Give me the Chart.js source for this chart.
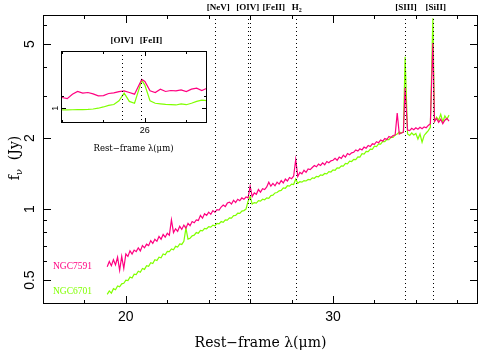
<!DOCTYPE html>
<html>
<head>
<meta charset="utf-8">
<script src="https://cdn.jsdelivr.net/npm/chart.js@4"></script>
<style>
html, body { margin: 0; padding: 0; background: #fff; }
#wrap { position: relative; width: 479px; height: 354px; }
#wrap canvas { position: absolute; left: 0; top: 0; }
</style>
</head>
<body>
<div id="wrap">
<canvas id="grafico" width="479" height="354"></canvas>
<canvas id="inset" width="479" height="354"></canvas>
</div>
<script>
//! datos del espectro (rest-frame lambda en micras, f_nu en Jy)
var lambda = [
    19.1, 19.2, 19.3, 19.4, 19.5, 19.6, 19.7, 19.8, 19.9,
    20.0, 20.1, 20.2, 20.3, 20.4, 20.5, 20.6, 20.7, 20.8, 20.9,
    21.0, 21.1, 21.2, 21.3, 21.4, 21.5, 21.6, 21.7, 21.8, 21.9,
    22.0, 22.1, 22.2, 22.3, 22.4, 22.5, 22.6, 22.7, 22.8, 22.9,
    23.0, 23.1, 23.2, 23.3, 23.4, 23.5, 23.6, 23.7, 23.8, 23.9,
    24.0, 24.1, 24.2, 24.3, 24.4, 24.5, 24.6, 24.7, 24.8, 24.9,
    25.0, 25.1, 25.2, 25.3, 25.4, 25.5, 25.6, 25.7, 25.8, 25.9,
    26.0, 26.1, 26.2, 26.3, 26.4, 26.5, 26.6, 26.7, 26.8, 26.9,
    27.0, 27.1, 27.2, 27.3, 27.4, 27.5, 27.6, 27.7, 27.8, 27.9,
    28.0, 28.1, 28.2, 28.3, 28.4, 28.5, 28.6, 28.7, 28.8, 28.9,
    29.0, 29.1, 29.2, 29.3, 29.4, 29.5, 29.6, 29.7, 29.8, 29.9,
    30.0, 30.1, 30.2, 30.3, 30.4, 30.5, 30.6, 30.7, 30.8, 30.9,
    31.0, 31.1, 31.2, 31.3, 31.4, 31.5, 31.6, 31.7, 31.8, 31.9,
    32.0, 32.1, 32.2, 32.3, 32.4, 32.5, 32.6, 32.7, 32.8, 32.9,
    33.0, 33.1, 33.2, 33.3, 33.4,
    33.48, 33.6, 33.7, 33.8, 33.9, 34.0, 34.1, 34.2, 34.3, 34.4, 34.5,
    34.6, 34.7, 34.82, 34.9, 35.0, 35.1, 35.2, 35.3, 35.4, 35.5, 35.6
];

var ngc7591 = [
    0.57, 0.60, 0.575, 0.61, 0.58, 0.625, 0.55, 0.63, 0.56,
    0.645, 0.63, 0.665, 0.645, 0.67, 0.66, 0.685, 0.665, 0.70, 0.685,
    0.71, 0.70, 0.735, 0.715, 0.745, 0.73, 0.765, 0.745, 0.78, 0.76,
    0.79, 0.775, 0.90, 0.795, 0.825, 0.805, 0.845, 0.82, 0.855, 0.83,
    0.87, 0.85, 0.885, 0.875, 0.90, 0.895, 0.94, 0.915, 0.955, 0.94,
    0.97, 0.95, 0.985, 0.97, 0.995, 0.99, 1.02, 1.04, 1.025, 1.06,
    1.07, 1.05, 1.09, 1.065, 1.10, 1.085, 1.115, 1.10, 1.125, 1.115,
    1.25, 1.13, 1.17, 1.155, 1.21, 1.18, 1.22, 1.21, 1.24, 1.30,
    1.25, 1.285, 1.255, 1.30, 1.275, 1.32, 1.29, 1.34, 1.315, 1.36,
    1.345, 1.38, 1.62, 1.375, 1.43, 1.41, 1.46, 1.43, 1.48, 1.47,
    1.50, 1.53, 1.51, 1.55, 1.53, 1.57, 1.54, 1.59, 1.57, 1.60,
    1.61, 1.64, 1.61, 1.66, 1.64, 1.69, 1.66, 1.72, 1.70, 1.73,
    1.74, 1.78, 1.76, 1.80, 1.78, 1.83, 1.81, 1.86, 1.84, 1.89,
    1.88, 1.93, 1.91, 1.96, 1.94, 1.99, 1.97, 2.03, 2.01, 2.05,
    2.06, 2.55, 2.08, 2.10, 2.12,
    3.26, 2.16, 2.15, 2.20, 2.17, 2.21, 2.18, 2.22, 2.19, 2.23, 2.21,
    2.26, 2.30, 5.05, 2.35, 2.42, 2.33, 2.40, 2.30, 2.38, 2.42, 2.36
];

var ngc6701 = [
    0.435, 0.45, 0.44, 0.46, 0.455, 0.472, 0.468, 0.482, 0.485,
    0.50, 0.498, 0.515, 0.51, 0.53, 0.528, 0.545, 0.54, 0.56, 0.555,
    0.575, 0.572, 0.592, 0.588, 0.61, 0.605, 0.625, 0.622, 0.645, 0.64,
    0.662, 0.66, 0.678, 0.672, 0.695, 0.69, 0.712, 0.708, 0.73, 0.83,
    0.745, 0.752, 0.77, 0.775, 0.795, 0.79, 0.812, 0.808, 0.828, 0.825,
    0.842, 0.838, 0.855, 0.85, 0.87, 0.865, 0.885, 0.878, 0.90, 0.898,
    0.918, 0.915, 0.938, 0.94, 0.96, 0.958, 0.98, 0.985, 1.00, 1.08,
    1.13, 1.05, 1.065, 1.06, 1.085, 1.08, 1.10, 1.095, 1.115, 1.11,
    1.14, 1.145, 1.17, 1.175, 1.195, 1.20, 1.23, 1.225, 1.255, 1.25,
    1.275, 1.27, 1.34, 1.285, 1.305, 1.30, 1.32, 1.315, 1.335, 1.33,
    1.355, 1.35, 1.375, 1.37, 1.395, 1.39, 1.415, 1.41, 1.44, 1.435,
    1.465, 1.46, 1.495, 1.49, 1.525, 1.52, 1.56, 1.555, 1.595, 1.59,
    1.625, 1.62, 1.665, 1.66, 1.715, 1.71, 1.755, 1.75, 1.795, 1.79,
    1.845, 1.84, 1.89, 1.885, 1.935, 1.93, 1.975, 1.97, 2.015, 2.01,
    2.06, 2.08, 2.12, 2.10, 2.12,
    4.42, 2.08, 2.05, 2.10, 2.06, 2.09, 1.98, 2.08, 1.92, 2.05, 2.10,
    2.15, 2.22, 6.43, 2.35, 2.45, 2.38, 2.52, 2.34, 2.48, 2.40, 2.50
];

//! recuadro: zoom alrededor de [OIV] y [FeII]
var insetLambda = [
    25.600, 25.625, 25.650, 25.675, 25.700, 25.725, 25.750, 25.775,
    25.800, 25.825, 25.850, 25.875, 25.900, 25.925, 25.950, 25.985,
    26.000, 26.025, 26.050, 26.075, 26.100, 26.125, 26.150, 26.175,
    26.200, 26.225, 26.250, 26.275, 26.300
];
var inset7591 = [
    1.088, 1.078, 1.117, 1.141, 1.126, 1.132, 1.120, 1.102,
    1.105, 1.123, 1.128, 1.140, 1.147, 1.132, 1.117, 1.255,
    1.235, 1.147, 1.132, 1.162, 1.141, 1.150, 1.147, 1.156,
    1.141, 1.162, 1.171, 1.150, 1.171
];
var inset6701 = [
    0.987, 0.987, 0.988, 0.989, 0.989, 0.991, 0.994, 1.000,
    1.010, 1.022, 1.030, 1.060, 1.126, 1.055, 1.040, 1.245,
    1.200, 1.060, 1.040, 1.035, 1.030, 1.028, 1.026, 1.035,
    1.028, 1.040, 1.055, 1.066, 1.062
];

//! lineas de emision
var lineNames = ["[NeV]", "[OIV]", "[FeII]", "H2", "[SIII]", "[SiII]"];
var lineWaves = [24.32, 25.89, 25.98, 28.22, 33.48, 34.82];

//! ticks
var xMajor = [20, 30];
var xMinor = [18, 22, 24, 26, 28, 32, 34, 36];
var yMajor = [0.5, 1, 2, 5];
var yMinor = [0.4, 0.6, 0.7, 0.8, 0.9, 3, 4, 6];
var insetXMajor = [26];
var insetXMinor = [25.6, 25.8, 26.2];
var insetYMajor = [1];
var insetYMinor = [1.1];

var PINK = "#ff0080";
var GREEN = "#80ff00";
var SERIF = '"DejaVu Serif", serif';
var LSERIF = '"Liberation Serif", serif';
var SANS = '"Liberation Sans", Arial, sans-serif';

function pares(xs, ys) {
    return xs.map(function (x, i) { return { x: x, y: ys[i] }; });
}

function raya(c, x1, y1, x2, y2) {
    c.beginPath();
    c.moveTo(x1, y1);
    c.lineTo(x2, y2);
    c.stroke();
}

function textoVertical(c, txt, x, y, font) {
    c.save();
    c.translate(x, y);
    c.rotate(-Math.PI / 2);
    c.font = font;
    c.textAlign = "center";
    c.textBaseline = "middle";
    c.fillText(txt, 0, 0);
    c.restore();
}

// marco, ticks y etiquetas a mano (estilo pgplot, ticks hacia dentro)
function marco(c, a, xs, ys, xMaj, xMin, yMaj, yMin, lMaj, lMin) {
    c.strokeStyle = "#000";
    c.lineWidth = 1;
    c.strokeRect(a.left + 0.5, a.top + 0.5, a.right - a.left - 1, a.bottom - a.top - 1);
    xMaj.concat(xMin).forEach(function (v) {
        var px = Math.round(xs.getPixelForValue(v)) + 0.5;
        var len = xMaj.indexOf(v) >= 0 ? lMaj : lMin;
        raya(c, px, a.bottom, px, a.bottom - len);
        raya(c, px, a.top, px, a.top + len);
    });
    yMaj.concat(yMin).forEach(function (v) {
        var py = Math.round(ys.getPixelForValue(v)) + 0.5;
        var len = yMaj.indexOf(v) >= 0 ? lMaj : lMin;
        raya(c, a.left, py, a.left + len, py);
        raya(c, a.right, py, a.right - len, py);
    });
}

function lineas(c, a, xs, waves) {
    c.save();
    c.strokeStyle = "#000";
    c.lineWidth = 1;
    c.setLineDash([1, 3]);
    waves.forEach(function (w) {
        var px = Math.round(xs.getPixelForValue(w)) + 0.5;
        raya(c, px, a.top, px, a.bottom);
    });
    c.restore();
}

var principal = {
    id: "principal",
    afterDatasetsDraw: function (chart) {
        var c = chart.ctx, a = chart.chartArea;
        var xs = chart.scales.x, ys = chart.scales.y;
        c.save();
        lineas(c, a, xs, lineWaves);
        marco(c, a, xs, ys, xMajor, xMinor, yMajor, yMinor, 8, 4);

        c.fillStyle = "#000";
        c.font = "14px " + SANS;
        c.textAlign = "center";
        c.textBaseline = "middle";
        xMajor.forEach(function (v) {
            c.fillText(String(v), xs.getPixelForValue(v), 317);
        });
        yMajor.forEach(function (v) {
            textoVertical(c, String(v), 30, ys.getPixelForValue(v), "14px " + SANS);
        });

        // titulos de ejes
        c.font = "14px " + SERIF;
        c.textAlign = "center";
        c.textBaseline = "alphabetic";
        c.fillText("Rest\u2212frame \u03bb(\u03bcm)", (a.left + a.right) / 2, 347);

        c.save();
        c.translate(19, 158);
        c.rotate(-Math.PI / 2);
        c.font = "14px " + SERIF;
        var w1 = c.measureText("f").width;
        c.font = "10px " + SERIF;
        var w2 = c.measureText("\u03bd").width;
        c.font = "14px " + SERIF;
        var w3 = c.measureText("  (Jy)").width;
        var x0 = -(w1 + w2 + w3) / 2;
        c.textAlign = "left";
        c.fillText("f", x0, 0);
        c.font = "10px " + SERIF;
        c.fillText("\u03bd", x0 + w1, 3);
        c.font = "14px " + SERIF;
        c.fillText("  (Jy)", x0 + w1 + w2, 0);
        c.restore();

        // etiquetas de lineas arriba
        var shift = [3, 0, 24, 0, 1, 3];
        c.font = "bold 9px " + LSERIF;
        c.textAlign = "center";
        lineNames.forEach(function (n, i) {
            var px = xs.getPixelForValue(lineWaves[i]) + shift[i];
            if (n === "H2") {
                c.fillText("H", px - 1, 10);
                c.font = "bold 6px " + LSERIF;
                c.fillText("2", px + 4, 12);
                c.font = "bold 9px " + LSERIF;
            } else {
                c.fillText(n, px, 10);
            }
        });

        // nombres de las galaxias
        c.font = "9.5px " + LSERIF;
        c.textAlign = "left";
        c.fillStyle = PINK;
        c.fillText("NGC7591", 53, 269);
        c.fillStyle = GREEN;
        c.fillText("NGC6701", 53, 294);
        c.restore();
    }
};

var recuadro = {
    id: "recuadro",
    beforeDatasetsDraw: function (chart) {
        var c = chart.ctx, a = chart.chartArea;
        c.save();
        c.fillStyle = "#fff";
        c.fillRect(a.left, a.top, a.right - a.left, a.bottom - a.top);
        c.restore();
    },
    afterDatasetsDraw: function (chart) {
        var c = chart.ctx, a = chart.chartArea;
        var xs = chart.scales.x, ys = chart.scales.y;
        c.save();
        lineas(c, a, xs, [lineWaves[1], lineWaves[2]]);
        marco(c, a, xs, ys, insetXMajor, insetXMinor, insetYMajor, insetYMinor, 5, 3);
        c.fillStyle = "#000";
        c.font = "9px " + SANS;
        c.textAlign = "center";
        c.textBaseline = "middle";
        insetXMajor.forEach(function (v) {
            c.fillText(String(v), xs.getPixelForValue(v), 131);
        });
        insetYMajor.forEach(function (v) {
            textoVertical(c, String(v), 56, ys.getPixelForValue(v), "9px " + SANS);
        });
        c.font = "8.5px " + SERIF;
        c.textBaseline = "alphabetic";
        c.fillText("Rest\u2212frame \u03bb(\u03bcm)", 133.5, 151);
        c.font = "bold 9px " + LSERIF;
        c.fillText(lineNames[1], xs.getPixelForValue(lineWaves[1]), 43);
        c.textAlign = "left";
        c.fillText(lineNames[2], xs.getPixelForValue(lineWaves[2]) - 1, 43);
        c.restore();
    }
};

function ejesOcultos(tipo, min, max) {
    return {
        type: tipo,
        min: min,
        max: max,
        ticks: { display: false },
        grid: { display: false, drawTicks: false },
        border: { display: false }
    };
}

document.addEventListener("DOMContentLoaded", function () {
    var ctx = document.getElementById("grafico").getContext("2d");
    var grafico = new Chart(ctx, {
        type: "line",
        data: {
            datasets: [
                {
                    label: "NGC7591",
                    data: pares(lambda, ngc7591),
                    borderColor: PINK,
                    borderWidth: 1.2,
                    pointRadius: 0,
                    order: 0,
                },
                {
                    label: "NGC6701",
                    data: pares(lambda, ngc6701),
                    borderColor: GREEN,
                    borderWidth: 1.2,
                    pointRadius: 0,
                    order: 1,
                },
            ],
        },
        options: {
            responsive: false,
            animation: false,
            devicePixelRatio: 1,
            layout: { padding: { left: 43, top: 15, right: 1, bottom: 50 } },
            plugins: { legend: { display: false }, tooltip: { enabled: false } },
            scales: {
                x: ejesOcultos("linear", 16, 37),
                y: ejesOcultos("logarithmic", 0.396, 6.64),
            },
        },
        plugins: [principal],
    });

    var ctx2 = document.getElementById("inset").getContext("2d");
    var grafico2 = new Chart(ctx2, {
        type: "line",
        data: {
            datasets: [
                {
                    label: "NGC7591",
                    data: pares(insetLambda, inset7591),
                    borderColor: PINK,
                    borderWidth: 1.2,
                    pointRadius: 0,
                    order: 0,
                },
                {
                    label: "NGC6701",
                    data: pares(insetLambda, inset6701),
                    borderColor: GREEN,
                    borderWidth: 1.2,
                    pointRadius: 0,
                    order: 1,
                },
            ],
        },
        options: {
            responsive: false,
            animation: false,
            devicePixelRatio: 1,
            layout: { padding: { left: 61, top: 51, right: 272, bottom: 231 } },
            plugins: { legend: { display: false }, tooltip: { enabled: false } },
            scales: {
                x: ejesOcultos("linear", 25.595, 26.3),
                y: ejesOcultos("logarithmic", 0.89, 1.57),
            },
        },
        plugins: [recuadro],
    });
});
</script>
</body>
</html>
